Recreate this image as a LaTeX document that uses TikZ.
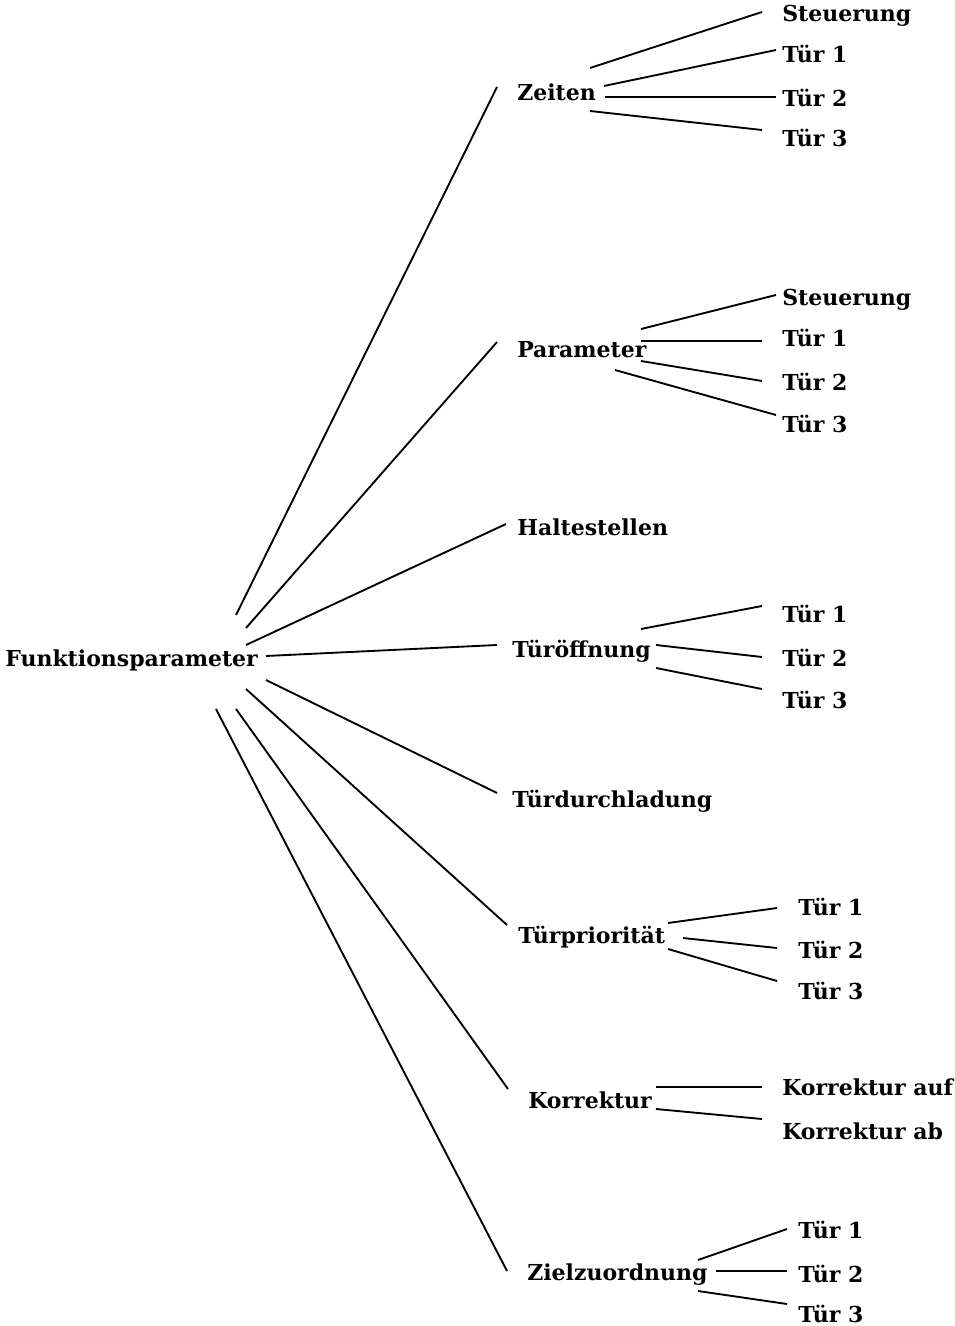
\documentclass[tikz,border=0pt]{standalone}
\usepackage{fontspec}
\setmainfont{DejaVu Serif}
\begin{document}
\begin{tikzpicture}[x=0.75pt,y=-0.75pt,
  lbl/.style={anchor=base west,inner sep=0pt,font=\bfseries\fontsize{16.5}{19}\selectfont},
  link/.style={line width=1.4pt,black}]
\useasboundingbox (0,0) rectangle (955,1326);

% labels
\node[lbl] (root) at (5,666) {Funktionsparameter};

\node[lbl] (zeiten) at (517,101) {Zeiten};
\node[lbl] (zs) at (782,22) {Steuerung};
\node[lbl] (z1) at (782,63) {Tür 1};
\node[lbl] (z2) at (782,107) {Tür 2};
\node[lbl] (z3) at (782,147) {Tür 3};

\node[lbl] (param) at (517,358) {Parameter};
\node[lbl] (ps) at (782,306) {Steuerung};
\node[lbl] (p1) at (782,347) {Tür 1};
\node[lbl] (p2) at (782,390) {Tür 2};
\node[lbl] (p3) at (782,432) {Tür 3};

\node[lbl] (halt) at (517,535) {Haltestellen};

\node[lbl] (oeff) at (512,657) {Türöffnung};
\node[lbl] (o1) at (782,622) {Tür 1};
\node[lbl] (o2) at (782,666) {Tür 2};
\node[lbl] (o3) at (782,708) {Tür 3};

\node[lbl] (durch) at (512,807) {Türdurchladung};

\node[lbl] (prio) at (518,943) {Türpriorität};
\node[lbl] (r1) at (798,915) {Tür 1};
\node[lbl] (r2) at (798,958) {Tür 2};
\node[lbl] (r3) at (798,999) {Tür 3};

\node[lbl] (korr) at (528,1108) {Korrektur};
\node[lbl] (kauf) at (782,1095) {Korrektur auf};
\node[lbl] (kab) at (782,1139) {Korrektur ab};

\node[lbl] (ziel) at (527,1280) {Zielzuordnung};
\node[lbl] (g1) at (798,1238) {Tür 1};
\node[lbl] (g2) at (798,1282) {Tür 2};
\node[lbl] (g3) at (798,1322) {Tür 3};

% connector end points
\coordinate (rZ) at (236,615);   \coordinate (eZ) at (497,87);
\coordinate (rP) at (246,628);   \coordinate (eP) at (497,342);
\coordinate (rH) at (246,645);   \coordinate (eH) at (506,524);
\coordinate (rO) at (266,656);   \coordinate (eO) at (497,645);
\coordinate (rD) at (266,680);   \coordinate (eD) at (497,793);
\coordinate (rT) at (246,689);   \coordinate (eT) at (507,925);
\coordinate (rK) at (236,709);   \coordinate (eK) at (508,1089);
\coordinate (rG) at (216,709);   \coordinate (eG) at (507,1271);

\coordinate (zA) at (590,68);    \coordinate (zsA) at (762,12);
\coordinate (zB) at (604,86);    \coordinate (z1A) at (776,50);
\coordinate (zC) at (605,97);    \coordinate (z2A) at (776,97);
\coordinate (zD) at (590,111);   \coordinate (z3A) at (762,130);

\coordinate (pA) at (641,329);   \coordinate (psA) at (776,295);
\coordinate (pB) at (641,341);   \coordinate (p1A) at (762,341);
\coordinate (pC) at (641,361);   \coordinate (p2A) at (762,381);
\coordinate (pD) at (615,370);   \coordinate (p3A) at (776,415);

\coordinate (oA) at (641,629);   \coordinate (o1A) at (762,606);
\coordinate (oB) at (656,645);   \coordinate (o2A) at (762,657);
\coordinate (oC) at (656,668);   \coordinate (o3A) at (762,689);

\coordinate (tA) at (668,923);   \coordinate (r1A) at (777,908);
\coordinate (tB) at (683,938);   \coordinate (r2A) at (777,948);
\coordinate (tC) at (668,949);   \coordinate (r3A) at (777,981);

\coordinate (kA) at (656,1087);  \coordinate (kaufA) at (762,1087);
\coordinate (kB) at (656,1109);  \coordinate (kabA) at (762,1119);

\coordinate (gA) at (698,1260);  \coordinate (g1A) at (787,1229);
\coordinate (gB) at (716,1271);  \coordinate (g2A) at (787,1271);
\coordinate (gC) at (698,1291);  \coordinate (g3A) at (787,1304);

% root to categories
\foreach \a/\b in {rZ/eZ,rP/eP,rH/eH,rO/eO,rD/eD,rT/eT,rK/eK,rG/eG}
  \draw[link] (\a) -- (\b);

% categories to leaves
\foreach \a/\b in {zA/zsA,zB/z1A,zC/z2A,zD/z3A,
                   pA/psA,pB/p1A,pC/p2A,pD/p3A,
                   oA/o1A,oB/o2A,oC/o3A,
                   tA/r1A,tB/r2A,tC/r3A,
                   kA/kaufA,kB/kabA,
                   gA/g1A,gB/g2A,gC/g3A}
  \draw[link] (\a) -- (\b);
\end{tikzpicture}
\end{document}
